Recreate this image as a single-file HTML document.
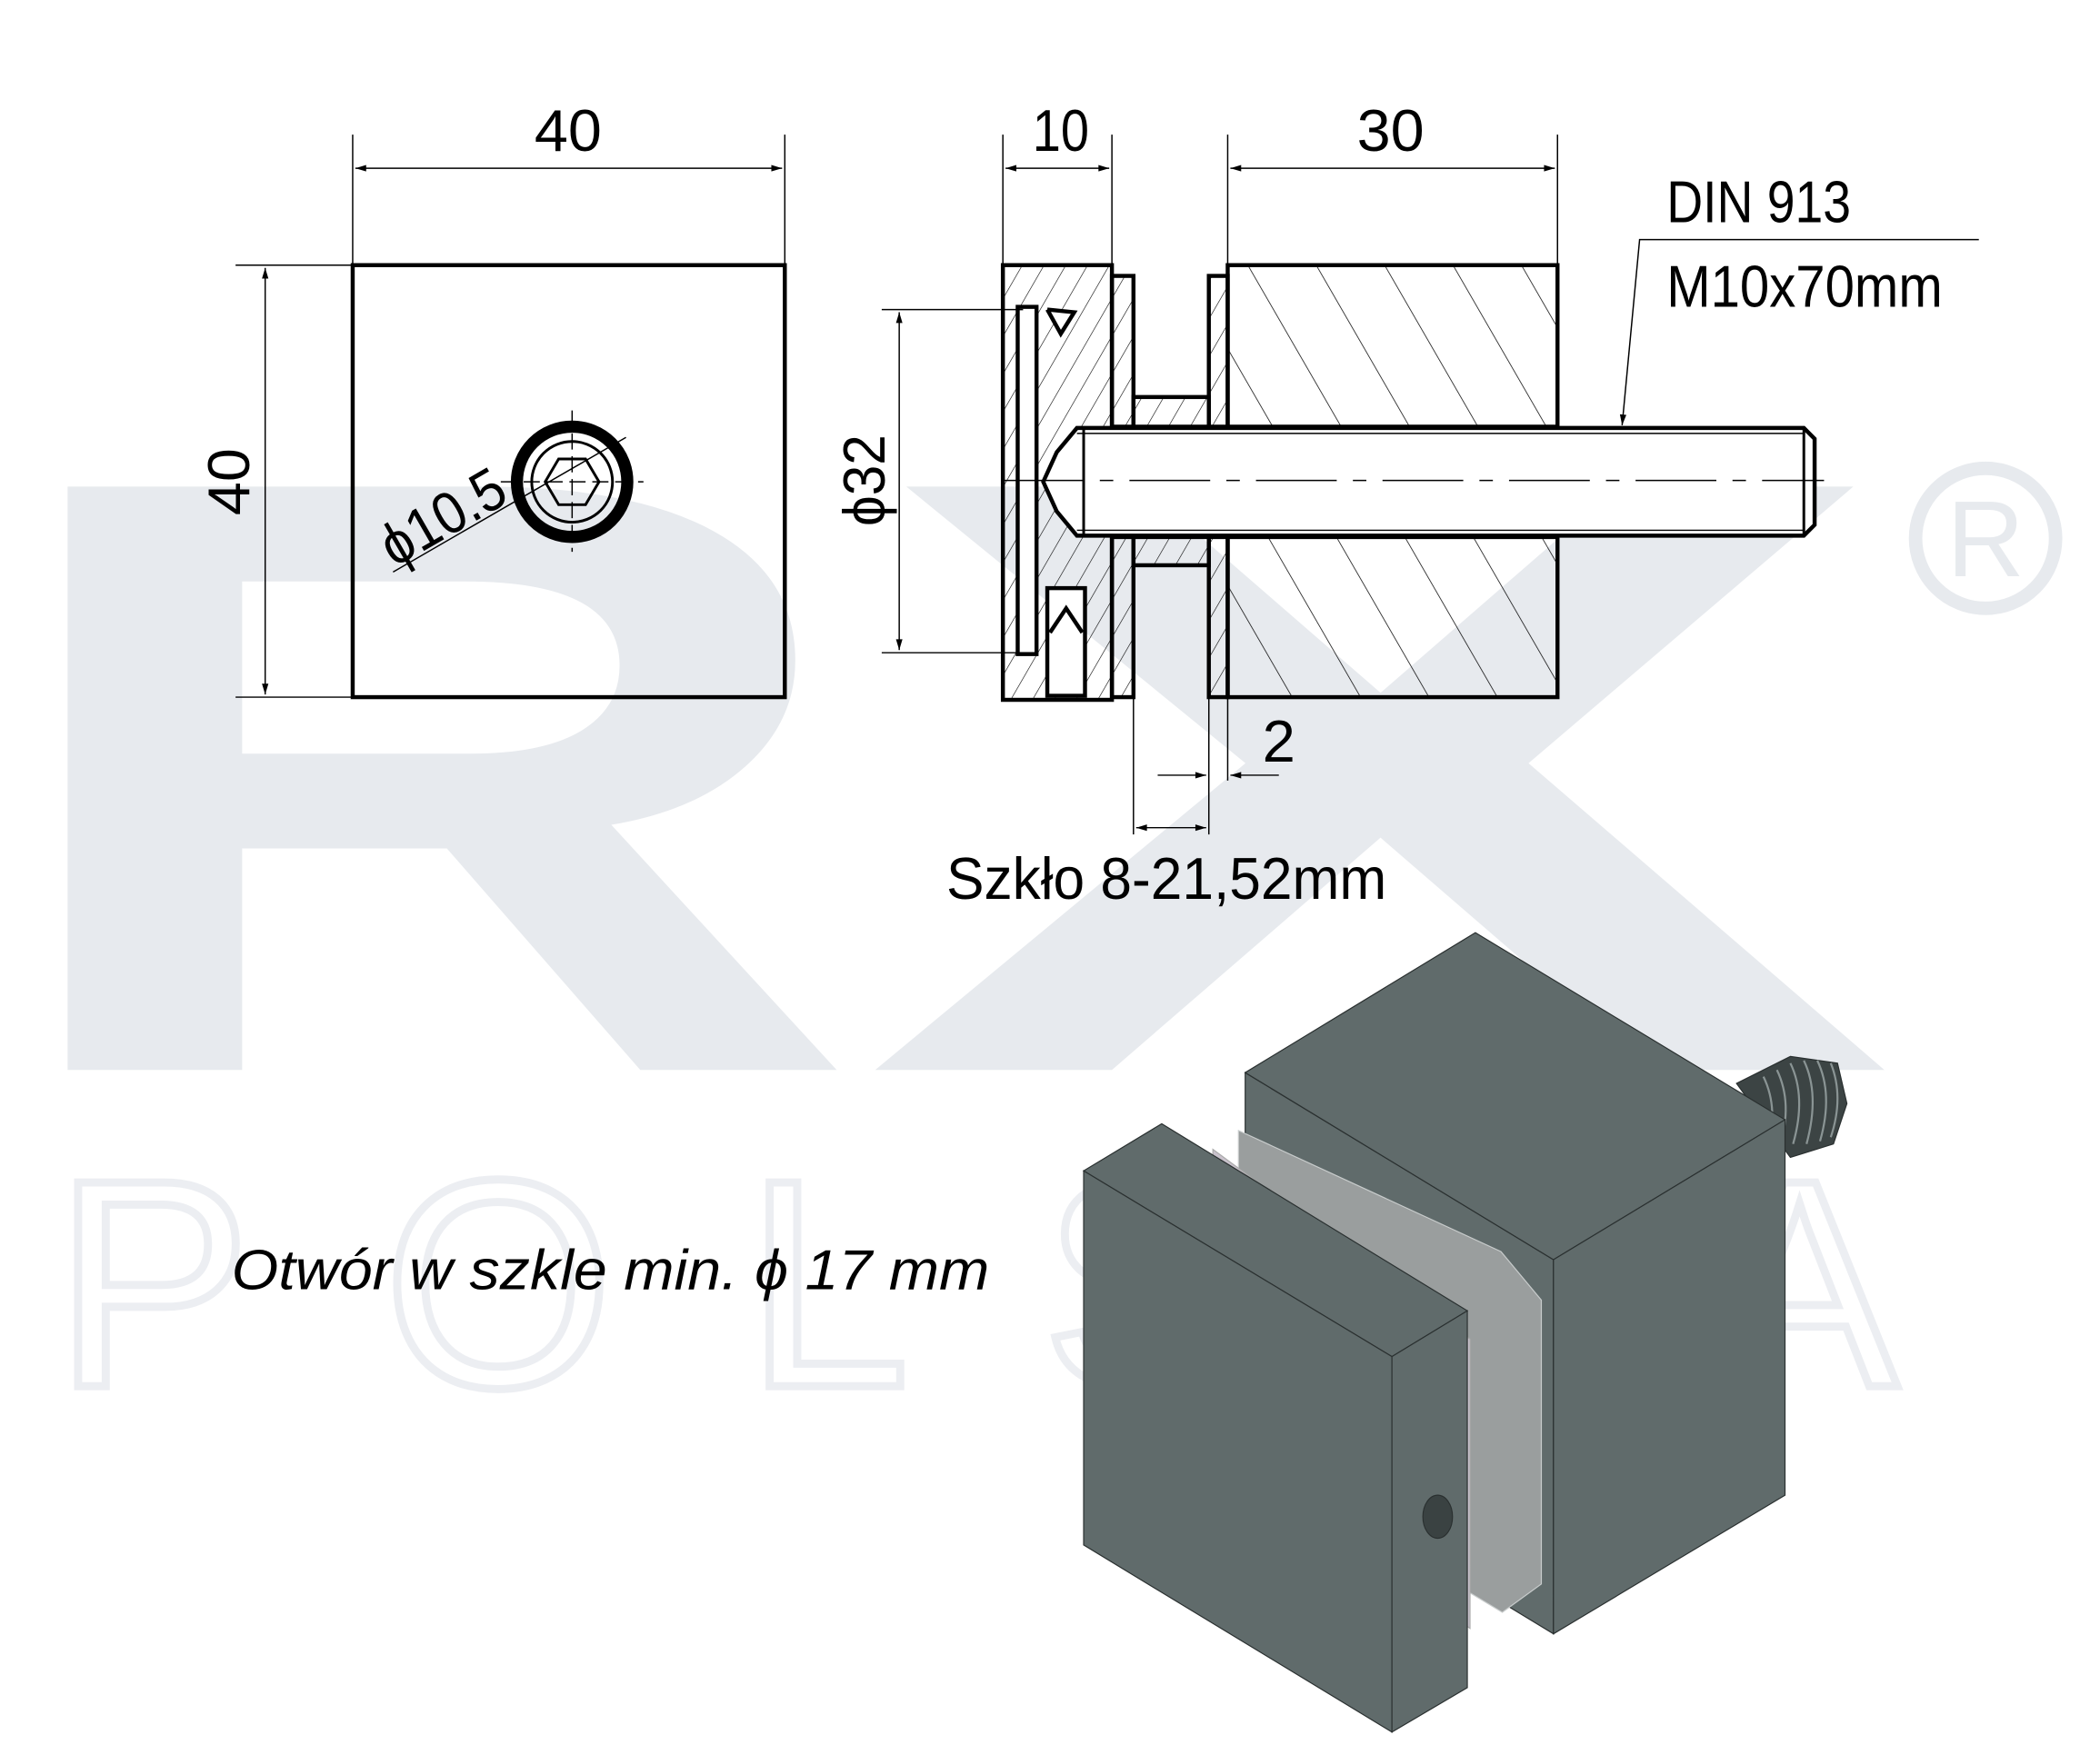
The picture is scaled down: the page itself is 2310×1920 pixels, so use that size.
<!DOCTYPE html>
<html><head><meta charset="utf-8"><style>html,body{margin:0;padding:0;background:#fff}svg{display:block}</style></head><body>
<svg width="2310" height="1920" viewBox="0 0 1560 1296.6" xmlns="http://www.w3.org/2000/svg" font-family="Liberation Sans, sans-serif">
<defs>
<marker id="a" viewBox="0 0 10 10" refX="10" refY="5" markerWidth="14" markerHeight="8" orient="auto-start-reverse" markerUnits="userSpaceOnUse"><path d="M0,2 L10,5 L0,8z" fill="#000"/></marker>
<pattern id="h" width="44" height="44" patternUnits="userSpaceOnUse" patternTransform="rotate(-30)"><line x1="0" y1="0" x2="0" y2="44" stroke="#000" stroke-width="1"/></pattern>
<pattern id="h2" width="14" height="14" patternUnits="userSpaceOnUse" patternTransform="rotate(30)"><line x1="0" y1="0" x2="0" y2="14" stroke="#000" stroke-width="0.8"/></pattern>
</defs>
<!-- watermark -->
<text x="-10" y="795" font-size="630" font-weight="bold" fill="#e7eaee" textLength="650" lengthAdjust="spacingAndGlyphs">R</text>
<text x="640" y="795" font-size="630" font-weight="bold" fill="#e7eaee" textLength="770" lengthAdjust="spacingAndGlyphs">X</text>
<text x="40" y="1030" font-size="220" fill="none" stroke="#eceef2" stroke-width="6" textLength="1370" lengthAdjust="spacing">POLSKA</text>
<circle cx="1475" cy="400" r="52" fill="none" stroke="#e7eaee" stroke-width="10"/>
<text x="1475" y="428" font-size="80" fill="#e7eaee" text-anchor="middle">R</text>

<g stroke="#000" fill="none">
<!-- left view -->
<rect x="262" y="197" width="321" height="321" stroke-width="3"/>
<line x1="262" y1="100" x2="262" y2="197" stroke-width="1"/><line x1="583" y1="100" x2="583" y2="197" stroke-width="1"/>
<line x1="264" y1="125" x2="581" y2="125" stroke-width="1" marker-start="url(#a)" marker-end="url(#a)"/>
<line x1="175" y1="197" x2="262" y2="197" stroke-width="1"/><line x1="175" y1="518" x2="262" y2="518" stroke-width="1"/>
<line x1="197" y1="199" x2="197" y2="516" stroke-width="1" marker-start="url(#a)" marker-end="url(#a)"/>
<circle cx="425" cy="358" r="41" stroke-width="9"/>
<circle cx="425" cy="358" r="30" stroke-width="2"/>
<polygon points="445,358 435,375 415,375 405,358 415,341 435,341" stroke-width="2"/>
<line x1="425" y1="305" x2="425" y2="410" stroke-width="1" stroke-dasharray="12 5"/>
<line x1="372" y1="358" x2="478" y2="358" stroke-width="1" stroke-dasharray="12 5"/>
<line x1="292" y1="425" x2="465" y2="325" stroke-width="1"/>

<!-- side view -->
<rect x="912" y="197" width="245" height="321" fill="url(#h)" stroke-width="3"/>
<rect x="745" y="197" width="81" height="323" fill="url(#h2)" stroke-width="3"/>
<rect x="756" y="228" width="14" height="258" fill="#fff" stroke-width="3"/>
<rect x="826" y="205" width="16" height="313" fill="url(#h2)" stroke-width="3"/>
<rect x="898" y="205" width="14" height="313" fill="url(#h2)" stroke-width="3"/>
<rect x="842" y="295" width="56" height="23" fill="url(#h2)" stroke-width="3"/>
<rect x="842" y="398" width="56" height="22" fill="url(#h2)" stroke-width="3"/>
<polyline points="778,230 798,232 788,248 778,230" stroke-width="3" fill="#fff"/>
<rect x="778" y="437" width="28" height="80" fill="#fff" stroke-width="3"/>
<polyline points="780,470 792,452 804,470" stroke-width="3"/>
<line x1="826" y1="318" x2="1157" y2="318" stroke-width="5"/>
<line x1="826" y1="398" x2="1157" y2="398" stroke-width="5"/>
<path d="M800,318 L1340,318 L1348,326 L1348,390 L1340,398 L800,398 L785,380 L775,358 L785,336 Z" fill="#fff" stroke-width="3"/>
<line x1="800" y1="322" x2="1340" y2="322" stroke-width="1"/><line x1="800" y1="394" x2="1340" y2="394" stroke-width="1"/>
<line x1="805" y1="318" x2="805" y2="398" stroke-width="2"/><line x1="1340" y1="318" x2="1340" y2="398" stroke-width="2"/>
<line x1="745" y1="357" x2="1355" y2="357" stroke-width="1" stroke-dasharray="60 12 10 12"/>
<!-- dims -->
<line x1="745" y1="100" x2="745" y2="197" stroke-width="1"/><line x1="826" y1="100" x2="826" y2="197" stroke-width="1"/>
<line x1="747" y1="125" x2="824" y2="125" stroke-width="1" marker-start="url(#a)" marker-end="url(#a)"/>
<line x1="912" y1="100" x2="912" y2="197" stroke-width="1"/><line x1="1157" y1="100" x2="1157" y2="197" stroke-width="1"/>
<line x1="914" y1="125" x2="1155" y2="125" stroke-width="1" marker-start="url(#a)" marker-end="url(#a)"/>
<line x1="655" y1="230" x2="760" y2="230" stroke-width="1"/><line x1="655" y1="485" x2="760" y2="485" stroke-width="1"/>
<line x1="668" y1="232" x2="668" y2="483" stroke-width="1" marker-start="url(#a)" marker-end="url(#a)"/>
<polyline points="1470,178 1218,178 1205,316" stroke-width="1" marker-end="url(#a)"/>
<line x1="842" y1="518" x2="842" y2="620" stroke-width="1"/><line x1="898" y1="518" x2="898" y2="620" stroke-width="1"/><line x1="912" y1="518" x2="912" y2="580" stroke-width="1"/>
<line x1="860" y1="576" x2="896" y2="576" stroke-width="1" marker-end="url(#a)"/>
<line x1="950" y1="576" x2="914" y2="576" stroke-width="1" marker-end="url(#a)"/>
<line x1="844" y1="615" x2="896" y2="615" stroke-width="1" marker-start="url(#a)" marker-end="url(#a)"/>
</g>
<g font-size="44" fill="#000">
<text x="422" y="112" text-anchor="middle" textLength="50" lengthAdjust="spacingAndGlyphs">40</text>
<text transform="translate(185,358) rotate(-90)" text-anchor="middle" textLength="50" lengthAdjust="spacingAndGlyphs">40</text>
<text transform="translate(293,422) rotate(-30)" textLength="100" lengthAdjust="spacingAndGlyphs">ϕ10.5</text>
<text x="788" y="112" text-anchor="middle" textLength="42" lengthAdjust="spacingAndGlyphs">10</text>
<text x="1033" y="112" text-anchor="middle" textLength="50" lengthAdjust="spacingAndGlyphs">30</text>
<text transform="translate(657,357) rotate(-90)" text-anchor="middle" textLength="68" lengthAdjust="spacingAndGlyphs">ϕ32</text>
<text x="1238" y="165" textLength="137" lengthAdjust="spacingAndGlyphs">DIN 913</text>
<text x="1238" y="228" textLength="205" lengthAdjust="spacingAndGlyphs">M10x70mm</text>
<text x="950" y="566" text-anchor="middle">2</text>
<text x="703" y="668" textLength="327" lengthAdjust="spacingAndGlyphs">Szkło 8-21,52mm</text>
<text x="172" y="958" font-style="italic" font-size="42" textLength="563" lengthAdjust="spacingAndGlyphs">Otwór w szkle min. ϕ 17 mm</text>
</g>

<!-- 3D -->
<g stroke="#2a3030" stroke-width="0.8">
<polygon points="1290,805 1330,785 1365,790 1372,820 1362,850 1330,860" fill="#3c4444"/>
<g stroke="#8a9494" stroke-width="1.5" fill="none">
<path d="M1310,800 q12,25 2,55"/><path d="M1320,795 q12,25 2,57"/><path d="M1330,790 q12,25 2,60"/><path d="M1340,788 q12,25 2,62"/><path d="M1350,788 q12,25 2,60"/><path d="M1360,790 q10,25 0,55"/>
</g>
<polygon points="925,797 1154,936 1154,1214 925,1075" fill="#606b6b"/>
<polygon points="925,797 1096,693 1326,832 1154,936" fill="#606b6b"/>
<polygon points="1154,936 1326,832 1326,1111 1154,1214" fill="#606b6b"/>
<polygon points="920,840 1115,930 1145,966 1145,1177 1116,1198 920,1080" fill="#9a9e9e" stroke="#c8cccc"/>
<polygon points="901,854 1092,995 1092,1210 901,1070" fill="#c9c2cc" stroke="#aaa"/>
<polygon points="805,870 863,835 1090,974 1034,1008" fill="#606b6b"/>
<polygon points="805,870 1034,1008 1034,1287 805,1148" fill="#606b6b"/>
<polygon points="1034,1008 1090,974 1090,1254 1034,1287" fill="#606b6b"/>
<ellipse cx="1068" cy="1127" rx="11" ry="16" fill="#3a4242"/>
</g>
</svg>
</body></html>
